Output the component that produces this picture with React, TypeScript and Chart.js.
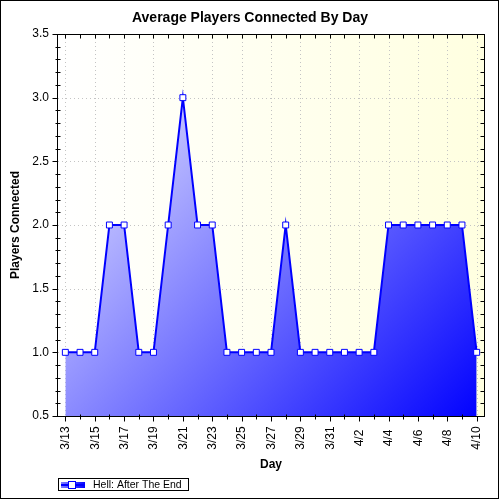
import { useEffect, useRef } from "react";
import { Chart, registerables } from "chart.js";

Chart.register(...registerables);

const chartTitle = "Average Players Connected By Day";
const xTitle = "Day";
const yTitle = "Players Connected";
const seriesLabel = "Hell: After The End";

const days = [
  "3/13", "3/14", "3/15", "3/16", "3/17", "3/18", "3/19", "3/20", "3/21", "3/22",
  "3/23", "3/24", "3/25", "3/26", "3/27", "3/28", "3/29", "3/30", "3/31", "4/1",
  "4/2", "4/3", "4/4", "4/5", "4/6", "4/7", "4/8", "4/9", "4/10",
];
const avgPlayers = [
  1, 1, 1, 2, 2, 1, 1, 2, 3, 2,
  2, 1, 1, 1, 1, 2, 1, 1, 1, 1,
  1, 1, 2, 2, 2, 2, 2, 2, 1,
];
const yMin = 0.5;
const yMax = 3.5;
const yStep = 0.5;
const yMinorStep = 0.1;

const FONT = "'Liberation Sans', Arial, sans-serif";

const decorPlugin = {
  id: "decor",
  beforeDraw(chart: any) {
    const { ctx, chartArea: a, width, height } = chart;
    ctx.save();
    ctx.fillStyle = "#ffffff";
    ctx.fillRect(0, 0, width, height);
    const g = ctx.createLinearGradient(a.left, a.top, a.right, a.top);
    g.addColorStop(0, "#ffffff");
    g.addColorStop(1, "#ffffe0");
    ctx.fillStyle = g;
    ctx.fillRect(a.left, a.top, a.right - a.left, a.bottom - a.top);
    ctx.restore();
  },
  beforeDatasetsDraw(chart: any) {
    const { ctx, chartArea: a, scales } = chart;
    const xs = scales.x;
    const ys = scales.y;
    ctx.save();
    ctx.strokeStyle = "#c4c4c4";
    ctx.lineWidth = 1;
    ctx.setLineDash([1, 3]);
    for (let v = yMin + yStep; v < yMax - 1e-6; v += yStep) {
      const y = Math.round(ys.getPixelForValue(v)) + 0.5;
      ctx.beginPath();
      ctx.moveTo(a.left, y);
      ctx.lineTo(a.right, y);
      ctx.stroke();
    }
    for (let i = 0; i < days.length; i += 2) {
      const x = Math.round(xs.getPixelForValue(i)) + 0.5;
      ctx.beginPath();
      ctx.moveTo(x, a.top);
      ctx.lineTo(x, a.bottom);
      ctx.stroke();
    }
    ctx.restore();
  },
  afterDraw(chart: any) {
    const { ctx, chartArea: a, scales, width, height } = chart;
    const xs = scales.x;
    const ys = scales.y;
    const L = Math.round(a.left) - 0.5;
    const R = Math.round(a.right) + 0.5;
    const T = Math.round(a.top) + 0.5;
    const B = Math.round(a.bottom) + 0.5;
    ctx.save();
    ctx.strokeStyle = "#000000";
    ctx.lineWidth = 1;
    ctx.setLineDash([]);
    ctx.strokeRect(L, T, R - L, B - T);

    ctx.beginPath();
    // y ticks
    const nMinor = Math.round((yMax - yMin) / yMinorStep);
    for (let k = 0; k <= nMinor; k++) {
      const v = yMin + k * yMinorStep;
      const y = Math.round(ys.getPixelForValue(v)) + 0.5;
      const major = k % Math.round(yStep / yMinorStep) === 0;
      if (major) {
        ctx.moveTo(L - 5, y);
        ctx.lineTo(L, y);
      } else {
        ctx.moveTo(L - 2, y);
        ctx.lineTo(L + 3, y);
      }
      ctx.moveTo(R - 4, y);
      ctx.lineTo(R, y);
    }
    // x ticks
    for (let i = 0; i < days.length; i++) {
      const x = Math.round(xs.getPixelForValue(i)) + 0.5;
      if (i % 2 === 0) {
        ctx.moveTo(x, B);
        ctx.lineTo(x, B + 5);
      } else {
        ctx.moveTo(x, B - 2);
        ctx.lineTo(x, B + 3);
      }
      ctx.moveTo(x, T);
      ctx.lineTo(x, T + 4);
    }
    ctx.stroke();

    // x labels
    ctx.fillStyle = "#000000";
    ctx.font = `12px ${FONT}`;
    ctx.textAlign = "center";
    ctx.textBaseline = "middle";
    for (let i = 0; i < days.length; i += 2) {
      const x = xs.getPixelForValue(i);
      ctx.save();
      ctx.translate(x + 0.5, a.bottom + 22);
      ctx.rotate(-Math.PI / 2);
      ctx.fillText(days[i], 0, 0);
      ctx.restore();
    }

    // titles
    ctx.font = `bold 14px ${FONT}`;
    ctx.fillText(chartTitle, width / 2, 18);
    ctx.font = `bold 12px ${FONT}`;
    ctx.fillText(xTitle, (a.left + a.right) / 2, 465);
    ctx.save();
    ctx.translate(15.5, (a.top + a.bottom) / 2);
    ctx.rotate(-Math.PI / 2);
    ctx.fillText(yTitle, 0, 0);
    ctx.restore();

    // legend
    const lx = 58.5;
    const ly = 478.5;
    ctx.fillStyle = "#ffffff";
    ctx.fillRect(lx, ly, 130, 12);
    ctx.strokeStyle = "#000000";
    ctx.strokeRect(lx, ly, 130, 12);
    const sg = ctx.createLinearGradient(61, 482, 85, 488);
    sg.addColorStop(0, "#8080ff");
    sg.addColorStop(1, "#0000ff");
    ctx.fillStyle = sg;
    ctx.fillRect(61, 482, 24, 6);
    ctx.strokeStyle = "#0000ff";
    ctx.lineWidth = 2;
    ctx.beginPath();
    ctx.moveTo(61, 485);
    ctx.lineTo(85, 485);
    ctx.stroke();
    ctx.lineWidth = 1;
    ctx.fillStyle = "#ffffff";
    ctx.fillRect(69, 482, 6, 6);
    ctx.strokeRect(68.5, 481.5, 7, 7);
    ctx.fillStyle = "#000000";
    ctx.font = `10.5px ${FONT}`;
    ctx.textAlign = "left";
    ctx.fillText(chart.data.datasets[0].label, 93, 485.5);

    // outer border
    ctx.strokeStyle = "#000000";
    ctx.strokeRect(0.5, 0.5, width - 2, height - 2);
    ctx.restore();
  },
};

export default function App() {
  const ref = useRef<HTMLCanvasElement | null>(null);

  useEffect(() => {
    if (!ref.current) return;
    const chart = new Chart(ref.current, {
      type: "line",
      data: {
        labels: days,
        datasets: [
          {
            label: seriesLabel,
            data: avgPlayers,
            borderColor: "#0000ff",
            borderWidth: 2,
            tension: 0,
            fill: "start",
            backgroundColor: (c: any) => {
              const a = c.chart.chartArea;
              if (!a) return "rgba(0,0,255,0.5)";
              const g = c.chart.ctx.createLinearGradient(a.left, a.top, a.right, a.bottom);
              g.addColorStop(0, "#ffffff");
              g.addColorStop(1, "#0000ff");
              return g;
            },
            pointStyle: "rect",
            pointRadius: 4.2,
            pointBackgroundColor: "#ffffff",
            pointBorderColor: "#0000ff",
            pointBorderWidth: 1,
          },
        ],
      },
      options: {
        animation: false,
        responsive: false,
        devicePixelRatio: 1,
        events: [],
        layout: { padding: { top: 34, right: 16, left: 0, bottom: 0 } },
        plugins: {
          legend: { display: false },
          title: { display: false },
          tooltip: { enabled: false },
        },
        scales: {
          x: {
            type: "category",
            offset: true,
            grid: { display: false, drawTicks: false },
            border: { display: false },
            ticks: { display: false },
            afterFit: (s: any) => {
              s.height = 84;
            },
          },
          y: {
            min: yMin,
            max: yMax,
            grid: { display: false, drawTicks: false },
            border: { display: false },
            ticks: {
              stepSize: yStep,
              padding: 9,
              color: "#000000",
              font: { family: FONT, size: 12 },
              callback: (v: any) => Number(v).toFixed(1),
            },
            afterFit: (s: any) => {
              s.width = 58;
            },
          },
        },
      },
      plugins: [decorPlugin],
    });
    return () => chart.destroy();
  }, []);

  return (
    <div style={{ position: "fixed", left: 0, top: 0, width: 500, height: 500 }}>
      <canvas ref={ref} width={500} height={500} style={{ width: 500, height: 500, display: "block" }} />
    </div>
  );
}
